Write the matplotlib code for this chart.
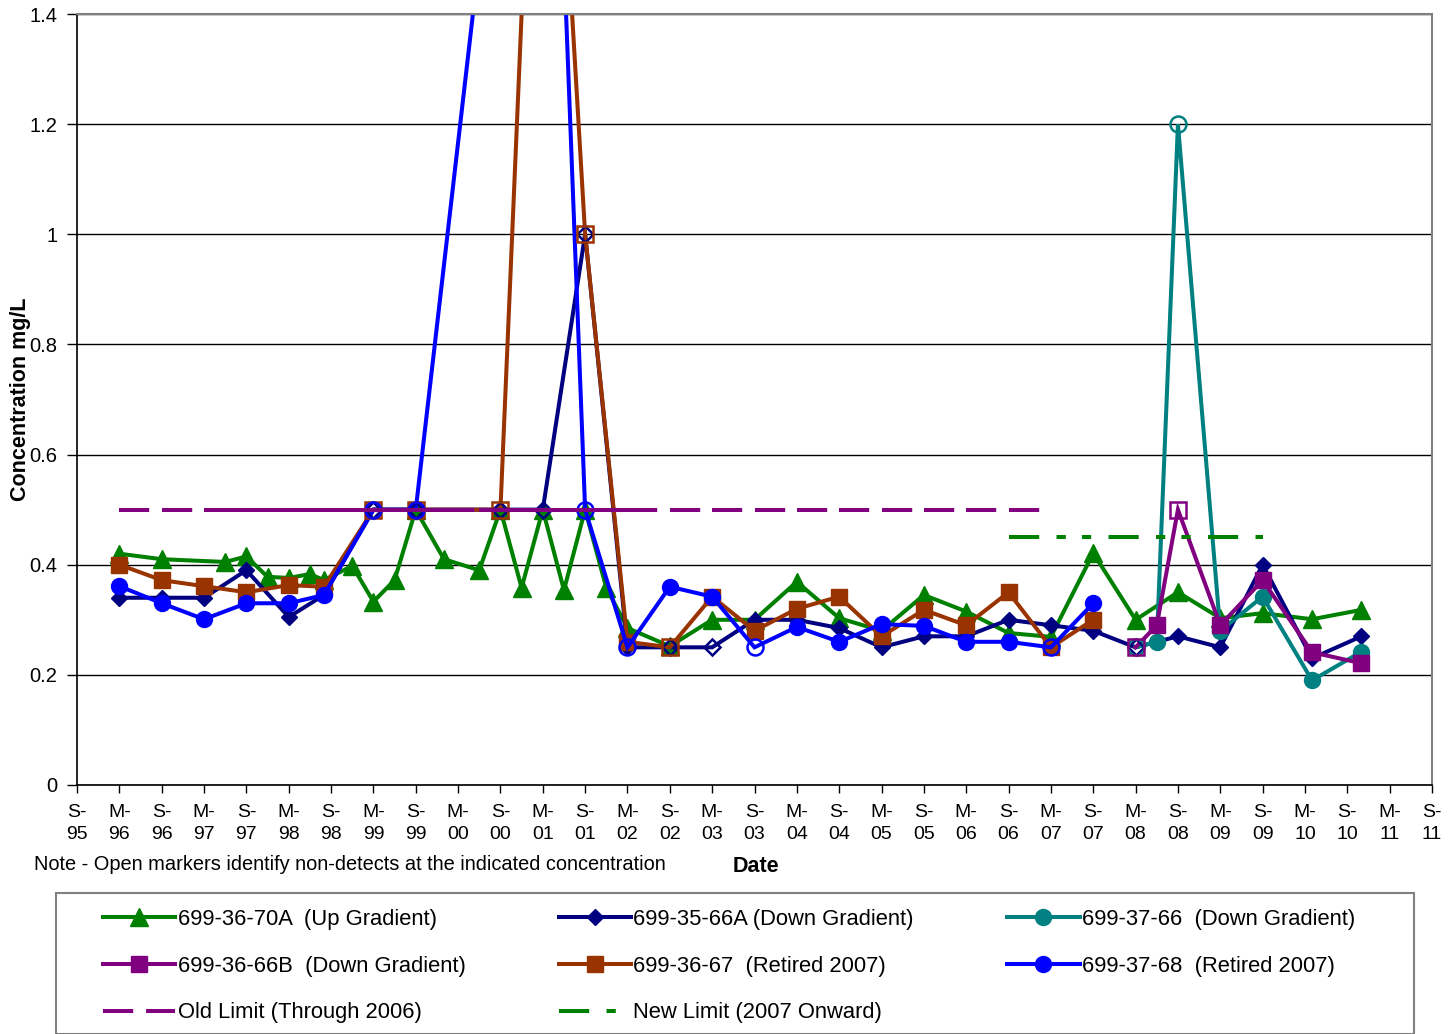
import matplotlib
matplotlib.use("Agg")
import matplotlib.pyplot as plt
from matplotlib.collections import LineCollection
from matplotlib.lines import Line2D
from matplotlib.patches import Rectangle

plt.rcParams['font.family'] = ['Liberation Sans', 'DejaVu Sans']

# sampling dates (YYYY-MM) and concentrations, mg/L; nd = 1 marks a non-detect
green_dates = ["1996-03", "1996-09", "1997-06", "1997-09", "1997-12", "1998-03", "1998-06",
               "1998-08", "1998-12", "1999-03", "1999-06", "1999-09", "2000-01", "2000-06",
               "2000-09", "2000-12", "2001-03", "2001-06", "2001-09", "2001-12", "2002-03",
               "2002-09", "2003-03", "2003-09", "2004-03", "2004-09", "2005-03", "2005-09",
               "2006-03", "2006-09", "2007-03", "2007-09", "2008-03", "2008-09", "2009-03",
               "2009-09", "2010-04", "2010-11"]
green_vals = [0.42, 0.41, 0.405, 0.415, 0.378, 0.376, 0.383, 0.372, 0.398, 0.333, 0.372, 0.50,
              0.41, 0.39, 0.50, 0.358, 0.50, 0.354, 0.50, 0.358, 0.285, 0.252, 0.30, 0.30,
              0.369, 0.303, 0.28, 0.345, 0.315, 0.276, 0.269, 0.421, 0.30, 0.35, 0.303, 0.312,
              0.301, 0.318]
green_nd = [0] * len(green_vals)

navy_dates = ["1996-03", "1996-09", "1997-03", "1997-09", "1998-03", "1998-08", "1999-03",
              "1999-09", "2000-09", "2001-03", "2001-09", "2002-03", "2002-09", "2003-03",
              "2003-09", "2004-03", "2004-09", "2005-03", "2005-09", "2006-03", "2006-09",
              "2007-03", "2007-09", "2008-03", "2008-09", "2009-03", "2009-09", "2010-04",
              "2010-11"]
navy_vals = [0.34, 0.34, 0.34, 0.39, 0.305, 0.345, 0.5, 0.5, 0.5, 0.5, 1.0, 0.25, 0.25, 0.25,
             0.30, 0.30, 0.285, 0.25, 0.27, 0.27, 0.30, 0.29, 0.28, 0.25, 0.27, 0.25, 0.40,
             0.23, 0.27]
navy_nd = [0, 0, 0, 0, 0, 0, 1, 1, 1, 1, 1, 0, 1, 1, 0, 0, 0, 0, 0, 0, 0, 0, 0, 1, 0, 0, 0, 0, 0]

teal_dates = ["2008-03", "2008-06", "2008-09", "2009-03", "2009-09", "2010-04", "2010-11"]
teal_vals = [0.25, 0.26, 1.2, 0.28, 0.342, 0.19, 0.242]
teal_nd = [1, 0, 1, 0, 0, 0, 0]

purple_dates = ["2008-03", "2008-06", "2008-09", "2009-03", "2009-09", "2010-04", "2010-11"]
purple_vals = [0.25, 0.29, 0.5, 0.29, 0.372, 0.241, 0.221]
purple_nd = [1, 0, 1, 0, 0, 0, 0]

brown_dates = ["1996-03", "1996-09", "1997-03", "1997-09", "1998-03", "1998-08", "1999-03",
               "1999-09", "2000-09", "2001-03", "2001-09", "2002-03", "2002-09", "2003-03",
               "2003-09", "2004-03", "2004-09", "2005-03", "2005-09", "2006-03", "2006-09",
               "2007-03", "2007-09"]
brown_vals = [0.40, 0.372, 0.361, 0.35, 0.363, 0.36, 0.5, 0.5, 0.5, 2.3, 1.0, 0.26, 0.25,
              0.342, 0.28, 0.32, 0.342, 0.27, 0.318, 0.29, 0.35, 0.25, 0.30]
brown_nd = [0, 0, 0, 0, 0, 0, 1, 1, 1, 0, 1, 0, 1, 0, 0, 0, 0, 0, 0, 0, 0, 0, 0]

blue_dates = ["1996-03", "1996-09", "1997-03", "1997-09", "1998-03", "1998-08", "1999-03",
              "1999-09", "2001-03", "2001-09", "2002-03", "2002-09", "2003-03", "2003-09",
              "2004-03", "2004-09", "2005-03", "2005-09", "2006-03", "2006-09", "2007-03",
              "2007-09"]
blue_vals = [0.361, 0.33, 0.301, 0.33, 0.33, 0.345, 0.5, 0.5, 2.5, 0.5, 0.25, 0.36, 0.342,
             0.25, 0.287, 0.26, 0.292, 0.289, 0.26, 0.26, 0.25, 0.33]
blue_nd = [0, 0, 0, 0, 0, 0, 1, 1, 0, 1, 1, 0, 0, 1, 0, 0, 0, 0, 0, 0, 1, 0]

old_limit = 0.5
old_limit_dates = ["1996-03", "1996-09", "1997-03", "1997-06", "1997-09", "1997-12", "1998-03",
                   "1998-06", "1998-08", "1998-12", "1999-03", "1999-06", "1999-09", "2000-01",
                   "2000-06", "2000-09", "2000-12", "2001-03", "2001-06", "2001-09", "2001-12",
                   "2002-03", "2002-09", "2003-03", "2003-09", "2004-03", "2004-09", "2005-03",
                   "2005-09", "2006-03", "2006-09", "2007-03"]
new_limit = 0.45
new_limit_dates = ["2006-09", "2009-09"]

tick_labels = []
for k in range(33):
    yr = 1995 + (k + 1) // 2
    tick_labels.append(("S-" if k % 2 == 0 else "M-") + "\n" + "%02d" % (yr % 100))


def months(d):
    # months after September 1995
    y, m = d.split("-")
    return (int(y) - 1995) * 12 + int(m) - 9


LW = 2.9
series = [
    ("699-36-70A  (Up Gradient)", green_dates, green_vals, green_nd, "#008000", "^", 12.5),
    ("699-35-66A (Down Gradient)", navy_dates, navy_vals, navy_nd, "#000080", "D", 8.5),
    ("699-37-66  (Down Gradient)", teal_dates, teal_vals, teal_nd, "#008080", "o", 11.5),
    ("699-36-66B  (Down Gradient)", purple_dates, purple_vals, purple_nd, "#800080", "s", 11),
    ("699-36-67  (Retired 2007)", brown_dates, brown_vals, brown_nd, "#993300", "s", 11),
    ("699-37-68  (Retired 2007)", blue_dates, blue_vals, blue_nd, "#0000FF", "o", 11.5),
]

fig = plt.figure(figsize=(14.5, 10.34), dpi=100)
ax = fig.add_axes([77 / 1450, 1 - 785 / 1034, (1432 - 77) / 1450, (785 - 14) / 1034])

handles = {}
for i, (name, dates, vals, nd, col, mk, ms) in enumerate(series):
    x = [months(d) for d in dates]
    ax.plot(x, vals, color=col, lw=LW, zorder=2 + i * 0.1, solid_joinstyle="miter")
    xf = [a for a, n in zip(x, nd) if not n]
    yf = [b for b, n in zip(vals, nd) if not n]
    xo = [a for a, n in zip(x, nd) if n]
    yo = [b for b, n in zip(vals, nd) if n]
    ax.plot(xf, yf, ls="none", marker=mk, ms=ms, color=col, mec=col, zorder=2.05 + i * 0.1)
    ax.plot(xo, yo, ls="none", marker=mk, ms=ms, mfc="none", mec=col, mew=1.8, zorder=3.5)
    handles[name] = Line2D([], [], color=col, lw=LW, marker=mk, ms=ms, mec=col)

# old limit: pattern restarts at every sample date
ox = [months(d) for d in old_limit_dates]
segs = [[(ox[j], old_limit), (ox[j + 1], old_limit)] for j in range(len(ox) - 1)]
ax.add_collection(LineCollection(segs, colors="#800080", linewidths=LW,
                                 linestyles=[(0, (7.5, 3.2))], capstyle="butt", zorder=4))
nx = [months(d) for d in new_limit_dates]
ax.plot(nx, [new_limit] * len(nx), color="#008000", lw=LW,
        dashes=(7.5, 4.3, 2.3, 4.0, 2.3, 4.3), dash_capstyle="butt", zorder=4)

handles["Old Limit (Through 2006)"] = Line2D([], [], color="#800080", lw=LW,
                                             dashes=(7.5, 3.2), dash_capstyle="butt")
handles["New Limit (2007 Onward)"] = Line2D([], [], color="#008000", lw=LW,
                                            dashes=(7.5, 4.3, 2.3, 8), dash_capstyle="butt")

ax.set_xlim(0, 192)
ax.set_ylim(0, 1.4)
ax.set_xticks(range(0, 193, 6))
ax.set_xticklabels(tick_labels, fontsize=14, linespacing=1.35)
ax.set_yticks([0, 0.2, 0.4, 0.6, 0.8, 1.0, 1.2, 1.4])
ax.set_yticklabels(["0", "0.2", "0.4", "0.6", "0.8", "1", "1.2", "1.4"], fontsize=14.5)
ax.tick_params(axis="x", direction="out", length=6, width=1, pad=8)
ax.tick_params(axis="y", direction="out", length=7, width=1, pad=7)
ax.yaxis.grid(True, color="black", lw=1)
ax.set_axisbelow(True)
for s in ("top", "right"):
    ax.spines[s].set_color("#808080")
    ax.spines[s].set_linewidth(1.5)
for s in ("left", "bottom"):
    ax.spines[s].set_color("black")
    ax.spines[s].set_linewidth(1.2)

ax.set_ylabel("Concentration mg/L", fontsize=15.5, fontweight="bold")
ax.yaxis.set_label_coords(-0.034, 0.5)

fig.text(34 / 1450, 1 - 864 / 1034, "Note - Open markers identify non-detects at the indicated concentration",
         fontsize=14.4, va="center", ha="left")
fig.text(756 / 1450, 1 - 866 / 1034, "Date", fontsize=15.5, fontweight="bold", va="center", ha="center")

# legend box
fig.patches.append(Rectangle((56 / 1450, 0.0), (1414 - 56) / 1450, 1 - 893 / 1034,
                             transform=fig.transFigure, fill=False, edgecolor="#808080", lw=1.5))
order = ["699-36-70A  (Up Gradient)", "699-36-66B  (Down Gradient)", "Old Limit (Through 2006)",
         "699-35-66A (Down Gradient)", "699-36-67  (Retired 2007)", "New Limit (2007 Onward)",
         "699-37-66  (Down Gradient)", "699-37-68  (Retired 2007)"]
fig.legend([handles[k] for k in order], order, ncol=3, mode="expand", frameon=False,
           loc="upper left", bbox_to_anchor=(103 / 1450, 1 - 909 / 1034, (1355 - 103) / 1450, 0),
           fontsize=15.8, handlelength=3.3, handletextpad=0.1, labelspacing=1.17,
           borderpad=0, borderaxespad=0, numpoints=1)

fig.savefig("out.png", dpi=100)
